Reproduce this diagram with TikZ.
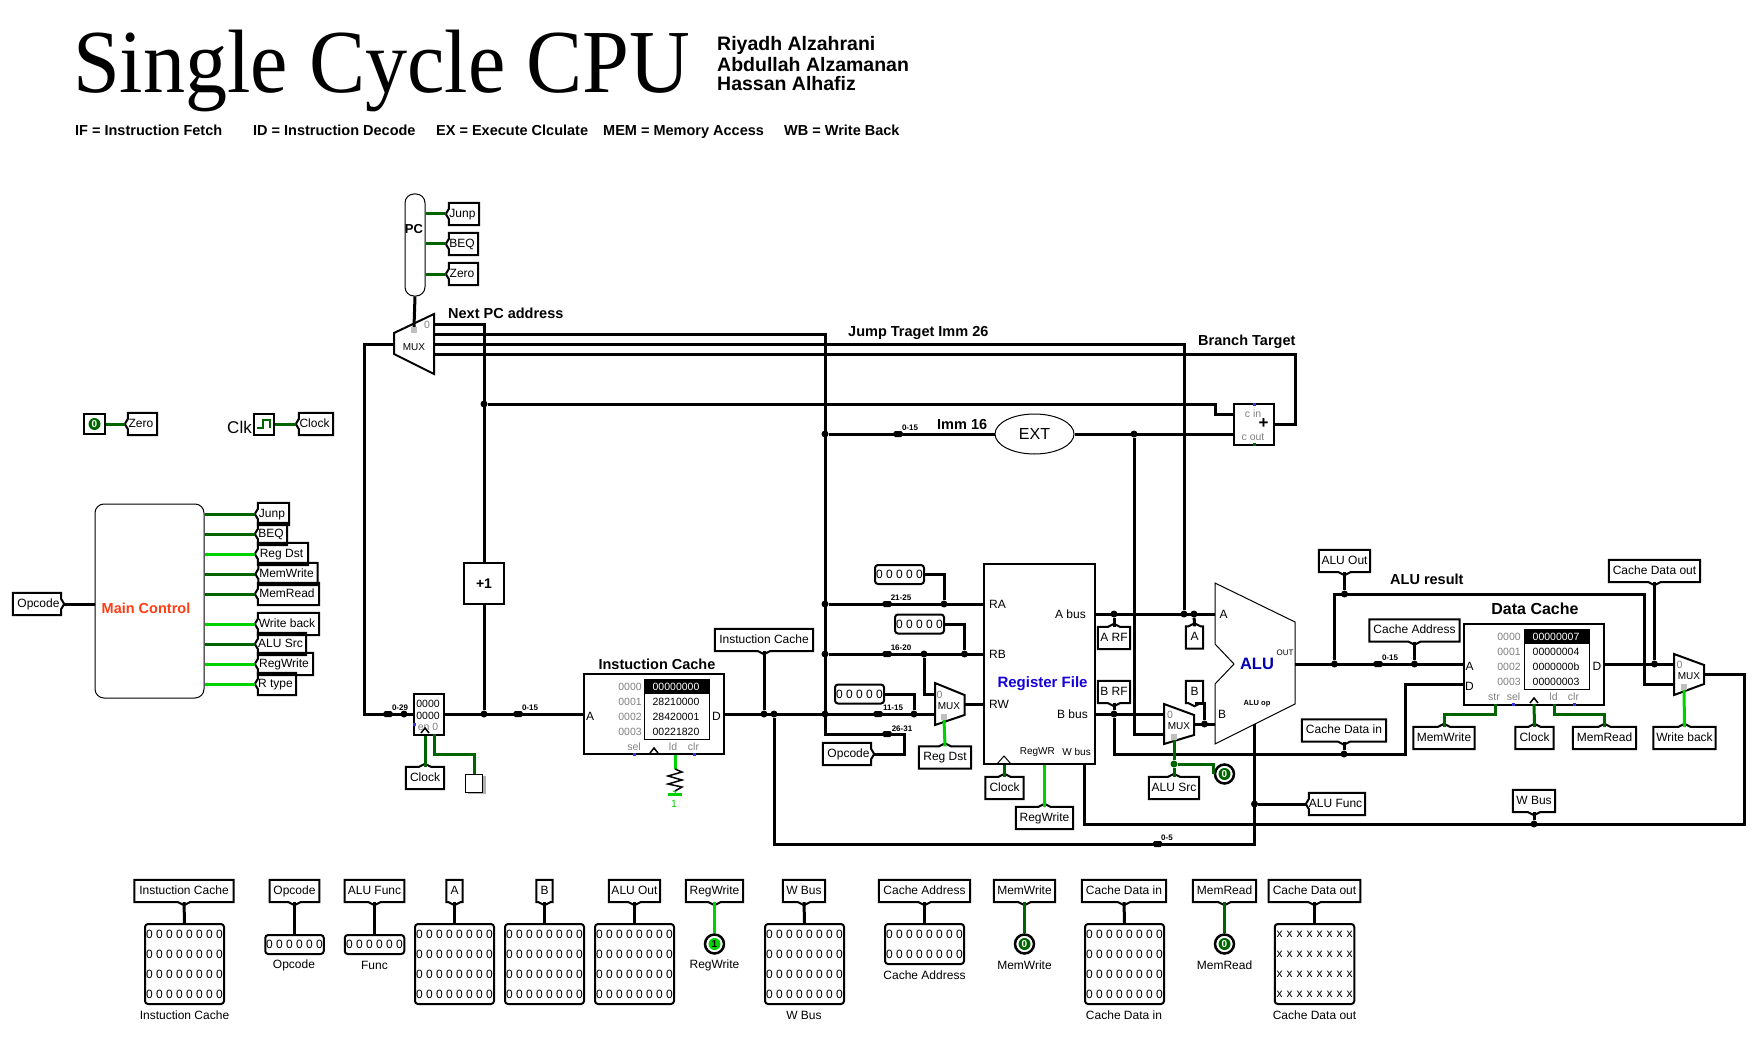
\documentclass[tikz,border=0pt]{standalone}
\usepackage{fontspec}
\setmainfont{Liberation Sans}
\newfontfamily\titlefont[FakeStretch=0.935]{Liberation Serif}
\usetikzlibrary{shapes.geometric}
\definecolor{wireon}{RGB}{0,210,0}
\definecolor{wireoff}{RGB}{0,100,0}
\definecolor{portgray}{RGB}{128,128,128}
\definecolor{pinblue}{RGB}{50,50,230}

\begin{document}
\begin{tikzpicture}[x=1pt,y=-1pt]
        % Setup the style for the fonts and wires
        \tikzset{fs/.style={font=\fontsize{#1}{#1}\selectfont},
                 fb/.style={font=\bfseries\fontsize{#1}{#1}\selectfont},
                 txt/.style={inner sep=0, anchor=west},
                 caption/.style={inner sep=0, fs=12},
                 port/.style={inner sep=0, fs=12},
                 gport/.style={inner sep=0, fs=10.5, text=portgray},
                 bus/.style={line width=3, line join=miter},
                 on/.style={line width=3, draw=wireon, line join=miter},
                 off/.style={line width=3, draw=wireoff, line join=miter},
                 dot/.style={circle, fill=black, inner sep=0, minimum size=7},
                 gdot/.style={circle, fill=wireoff, inner sep=0, minimum size=7},
                 splitter/.style={fill=black, inner sep=0, minimum width=9, minimum height=6, rounded corners=1.5},
                 splabel/.style={inner sep=0, fb=8},
                 gate/.style={draw, line width=2, line join=miter},
                 block/.style={draw, line width=2, inner sep=0},
                 thinblock/.style={draw, line width=1, inner sep=0},
                 bluepin/.style={fill=pinblue, inner sep=0, minimum size=3},
                 greysel/.style={fill=black!25, inner sep=0, minimum size=6},
                 muxtext/.style={inner sep=0, fs=10}}
        % Setup the style for the tunnels and probes
        \tikzset{tagbox/.style={rectangle, inner sep=0, minimum height=22, text height=9, text depth=2.5, fs=12},
                 tagline/.style={line width=2, line join=miter},
                 tagS/.style={tagbox, append after command={\pgfextra{\begin{pgfinterruptpath}
                     \draw[tagline] ([xshift=-6pt]\tikzlastnode.south) -- (\tikzlastnode.south west) -- (\tikzlastnode.north west)
                     -- (\tikzlastnode.north east) -- (\tikzlastnode.south east) -- ([xshift=6pt]\tikzlastnode.south)
                     -- ([yshift=-3pt]\tikzlastnode.south) -- cycle;\end{pgfinterruptpath}}}},
                 tagN/.style={tagbox, append after command={\pgfextra{\begin{pgfinterruptpath}
                     \draw[tagline] ([xshift=-6pt]\tikzlastnode.north) -- (\tikzlastnode.north west) -- (\tikzlastnode.south west)
                     -- (\tikzlastnode.south east) -- (\tikzlastnode.north east) -- ([xshift=6pt]\tikzlastnode.north)
                     -- ([yshift=3pt]\tikzlastnode.north) -- cycle;\end{pgfinterruptpath}}}},
                 tagW/.style={tagbox, append after command={\pgfextra{\begin{pgfinterruptpath}
                     \draw[tagline] (\tikzlastnode.west) -- ([xshift=3pt,yshift=5pt]\tikzlastnode.west)
                     -- ([xshift=3pt]\tikzlastnode.north west) -- (\tikzlastnode.north east) -- (\tikzlastnode.south east)
                     -- ([xshift=3pt]\tikzlastnode.south west) -- ([xshift=3pt,yshift=-5pt]\tikzlastnode.west) -- cycle;\end{pgfinterruptpath}}}},
                 tagE/.style={tagbox, append after command={\pgfextra{\begin{pgfinterruptpath}
                     \draw[tagline] (\tikzlastnode.east) -- ([xshift=-3pt,yshift=5pt]\tikzlastnode.east)
                     -- ([xshift=-3pt]\tikzlastnode.north east) -- (\tikzlastnode.north west) -- (\tikzlastnode.south west)
                     -- ([xshift=-3pt]\tikzlastnode.south east) -- ([xshift=-3pt,yshift=-5pt]\tikzlastnode.east) -- cycle;\end{pgfinterruptpath}}}},
                 probe/.style={draw, line width=2, rounded corners=3, inner sep=0, align=center,
                               font=\fontsize{12}{20}\selectfont},
                 ring/.style={circle, draw, line width=2.5, minimum size=19, inner sep=0},
                 pinon/.style={circle, fill=wireon, inner sep=0, minimum size=12, fb=10},
                 pinoff/.style={circle, fill=wireoff, text=white, inner sep=0, minimum size=12, fb=10}}

        \useasboundingbox (0,0) rectangle (1763,1059);

        % Draw the headings
        \node[inner sep=0, anchor=base west, font=\titlefont\fontsize{90}{90}\selectfont] at (73,93) (title) {Single Cycle CPU};
        \node[txt, fb=19.5] at (717,45) (authorA) {Riyadh Alzahrani};
        \node[txt, fb=19.5] at (717,65) (authorB) {Abdullah Alzamanan};
        \node[txt, fb=19.5] at (717,84) (authorC) {Hassan Alhafiz};
        \node[txt, fb=14.5] at (75,130) (legIF) {IF = Instruction Fetch};
        \node[txt, fb=14.5] at (253,130) (legID) {ID = Instruction Decode};
        \node[txt, fb=14.5] at (436,130) (legEX) {EX = Execute Clculate};
        \node[txt, fb=14.5] at (603,132) (legMEM) {MEM = Memory Access};
        \node[txt, fb=14.5] at (784,130) (legWB) {WB = Write Back};
        \node[txt, fb=14.5] at (448,313) (lblNext) {Next PC address};
        \node[txt, fb=14.5] at (848,333) (lblJump) {Jump Traget Imm 26};
        \node[txt, fb=14.5] at (1198,342) (lblBranch) {Branch Target};
        \node[txt, fb=14.5] at (937,425) (lblImm) {Imm 16};
        \node[txt, fb=14.5] at (1390,579) (lblResult) {ALU result};

        % Draw the PC and its mux
        \node[thinblock, rounded corners=9, minimum width=20, minimum height=102] at (415,245) (pc) {};
        \node[inner sep=0, fb=13] at (414,229) (pcText) {PC};
        \node[tagW, minimum width=33] at (462.5,214) (tJumpPC) {Junp};
        \node[tagW, minimum width=32] at (462,244) (tBeqPC) {BEQ};
        \node[tagW, minimum width=32] at (462,274) (tZeroPC) {Zero};
        \draw[gate] (394,333) -- (434,314) -- (434,374) -- (394,354) -- cycle;
        \node[muxtext] at (414,347) (muxPC) {MUX};
        \node[gport] at (427,325) (muxPCzero) {0};
        \node[greysel] at (414,330) (muxPCsel) {};
        \coordinate (muxPCa) at (434,324);
        \coordinate (muxPCb) at (434,334);
        \coordinate (muxPCc) at (434,344);
        \coordinate (muxPCd) at (434,354);
        \coordinate (muxPCin) at (394,344);

        % Draw the constant and the clock
        \node[block, minimum width=21, minimum height=20] at (94.5,424) (zeroBox) {};
        \node[pinoff] at (zeroBox) (zeroPin) {0};
        \node[tagW, minimum width=32] at (141,424) (tZero) {Zero};
        \node[inner sep=0, fs=17] at (239.5,427) (clkText) {Clk};
        \node[block, minimum width=20, minimum height=21] at (264,424) (clkBox) {};
        \draw[line width=2, draw=wireoff] (257,428) -- (263,428) -- (263,420) -- (270,420) -- (270,428);
        \node[tagW, minimum width=37] at (314.5,424) (tClock) {Clock};

        % Draw the main control
        \node[inner sep=0, thinblock, rounded corners=9, minimum width=109, minimum height=194] at (149.5,601) (mc) {};
        \node[inner sep=0, fb=14.5, text={rgb,255:red,255;green,60;blue,20}] at (146,608) (mcText) {Main Control};
        \node[tagE, minimum width=51] at (38.5,604) (tOpcodeM) {Opcode};
        \node[tagW, minimum width=34] at (272,514) (tJump) {Junp};
        \node[tagW, minimum width=32] at (271,534) (tBeq) {BEQ};
        \node[tagW, minimum width=53] at (281.5,554) (tRegDst) {Reg Dst};
        \node[tagW, minimum width=62] at (286.5,574) (tMemWrite) {MemWrite};
        \node[tagW, minimum width=64] at (287,594) (tMemRead) {MemRead};
        \node[tagW, minimum width=64] at (287,624) (tWriteBack) {Write back};
        \node[tagW, minimum width=51] at (280.5,644) (tAluSrc) {ALU Src};
        \node[tagW, minimum width=58] at (284,664) (tRegWrite) {RegWrite};
        \node[tagW, minimum width=41] at (275.5,684) (tRType) {R type};

        % Draw the program counter register and the incrementer
        \node[block, minimum width=30, minimum height=41] at (429,714) (reg) {};
        \node[inner sep=0, fs=10.5] at (428,704) (regHi) {0000};
        \node[inner sep=0, fs=10.5] at (428,716) (regLo) {0000};
        \node[gport] at (428,727) (regEn) {en 0};
        \node[bluepin] at (414.5,724) (regBlue) {};
        \draw[line width=1.5] (421,733) -- (425,728) -- (429,733);
        \coordinate (regMemo) at (434.5,734);
        \coordinate (cMemo) at (434.5,754);
        \node[tagN, minimum width=38] at (425,778) (tClockPC) {Clock};
        \node[fill=black!30, inner sep=0, minimum width=18, minimum height=18] at (477,785) (memoShade) {};
        \node[draw, fill=white, line width=1, inner sep=0, minimum width=17, minimum height=18] at (474,783) (memo) {};
        \node[block, fb=14, minimum width=40, minimum height=41] at (484,583.5) (inc) {+1};

        % Draw the instruction cache
        \node[inner sep=0, fb=14.5] at (657,664) (icTitle) {Instuction Cache};
        \node[block, minimum width=140, minimum height=80] at (654,714) (ic) {};
        \node[draw, line width=1, inner sep=0, minimum width=65, minimum height=60] at (677,709) (icData) {};
        \node[fill=black, inner sep=0, minimum width=65, minimum height=15] at (677,686.5) (icRow) {};
        \node[gport] at (630,687) (icAddrA) {0000};
        \node[gport] at (630,702) (icAddrB) {0001};
        \node[gport] at (630,717) (icAddrC) {0002};
        \node[gport] at (630,732) (icAddrD) {0003};
        \node[inner sep=0, fs=10.5, text=white] at (676,687) (icValA) {00000000};
        \node[inner sep=0, fs=10.5] at (676,702) (icValB) {28210000};
        \node[inner sep=0, fs=10.5] at (676,717) (icValC) {28420001};
        \node[inner sep=0, fs=10.5] at (676,732) (icValD) {00221820};
        \node[port] at (590,716) (icA) {A};
        \node[port] at (716.5,716) (icD) {D};
        \node[gport] at (634,747) (icSel) {sel};
        \node[gport] at (673,747) (icLd) {ld};
        \node[gport] at (693.5,747) (icClr) {clr};
        \draw[line width=1.5] (650,753) -- (654,748) -- (658,753);
        \node[bluepin] at (634,754) (icBlueA) {};
        \node[bluepin] at (694,754) (icBlueB) {};
        \node[fill=wireon, inner sep=0, minimum width=14, minimum height=3] at (674.5,794) (pullBar) {};
        \node[inner sep=0, fs=10.5, text=wireon] at (674,804) (pullText) {1};
        \coordinate (pullTop) at (675,769);
        \coordinate (pullEnd) at (675,791);
        \node[tagS, minimum width=98] at (764,640) (tIcOut) {Instuction Cache};
        \node[tagE, minimum width=51] at (848.5,754) (tOpcodeIR) {Opcode};

        % Draw the constants and the register dest mux
        \node[probe, minimum width=49, minimum height=19] at (899.5,574.5) (kRA) {0 0 0 0 0};
        \node[probe, minimum width=49, minimum height=19] at (919.5,624) (kRB) {0 0 0 0 0};
        \node[probe, minimum width=49, minimum height=19] at (859.5,694) (kRW) {0 0 0 0 0};
        \draw[gate] (935,683) -- (964.5,695) -- (964.5,715) -- (935,725) -- cycle;
        \node[muxtext] at (949,706) (muxD) {MUX};
        \node[gport] at (939.5,695) (muxDzero) {0};
        \node[greysel] at (944,717) (muxDsel) {};
        \coordinate (muxDa) at (935,694);
        \coordinate (muxDb) at (935,714);
        \coordinate (muxDout) at (964.5,704);
        \node[tagN, minimum width=52] at (945,757.5) (tRegDstIn) {Reg Dst};

        % Draw the register file
        \node[block, minimum width=110.5, minimum height=200] at (1039.25,664) (rf) {};
        \node[inner sep=0, fb=15, text={rgb,255:red,20;green,0;blue,220}] at (1042.5,684) (rfText) {Register File};
        \node[port, anchor=west] at (989,604) (rfRA) {RA};
        \node[port, anchor=west] at (989,654) (rfRB) {RB};
        \node[port, anchor=west] at (989,704) (rfRW) {RW};
        \node[port, anchor=east] at (1086,614) (rfAbus) {A bus};
        \node[port, anchor=east] at (1088,714) (rfBbus) {B bus};
        \node[inner sep=0, fs=10, anchor=east] at (1055,752) (rfRegWR) {RegWR};
        \node[inner sep=0, fs=10, anchor=east] at (1091,752) (rfWbus) {W bus};
        \draw[line width=1] (997,764) -- (1004,756) -- (1011,764);
        \node[tagN, minimum width=38] at (1004.5,788) (tClockRF) {Clock};
        \node[tagN, minimum width=57] at (1044.5,818) (tRegWriteRF) {RegWrite};
        \coordinate (rfW) at (1084,764);

        % Draw the EXT and the adder
        \node[thinblock, ellipse, fs=16, minimum width=79, minimum height=40] at (1034.5,434) (ext) {EXT};
        \node[block, minimum width=40, minimum height=41] at (1254,424) (adder) {};
        \node[gport] at (1253,414) (adderIn) {c in};
        \node[gport] at (1253,437) (adderOut) {c out};
        \node[inner sep=0, fb=17] at (1263.5,424) (adderPlus) {+};
        \node[bluepin] at (1254,404) (adderBlue) {};
        \node[fill=wireoff, inner sep=0, minimum size=3] at (1254,444) (adderGreen) {};
        \coordinate (adderA) at (1234,414);
        \coordinate (adderB) at (1234,434);

        % Draw the ALU and its mux
        \draw[line width=1, line join=miter] (1215,583) -- (1295,622) -- (1295,704) -- (1215,744) -- (1215,684) -- (1234,664) -- (1215,644) -- cycle;
        \node[inner sep=0, fb=16.5, text={rgb,255:red,0;green,0;blue,176}] at (1257,664) (aluText) {ALU};
        \node[port] at (1223.5,614) (aluAText) {A};
        \node[port] at (1222,714) (aluBText) {B};
        \node[inner sep=0, fs=8] at (1285,653) (aluOutText) {OUT};
        \node[inner sep=0, fb=7.5] at (1257,704) (aluOpText) {ALU op};
        \coordinate (aluA) at (1215,614);
        \coordinate (aluB) at (1215,724);
        \coordinate (aluOut) at (1295,664);
        \coordinate (aluOp) at (1254.5,724);
        \draw[gate] (1164,704) -- (1194,715) -- (1194,735) -- (1164,744) -- cycle;
        \node[muxtext] at (1179,726) (muxA) {MUX};
        \node[gport] at (1170,715) (muxAzero) {0};
        \node[greysel] at (1174,737) (muxAsel) {};
        \coordinate (muxAa) at (1164,714);
        \coordinate (muxAb) at (1164,734);
        \coordinate (muxAout) at (1194,724);
        \node[tagN, minimum width=32] at (1114,638) (tARF) {A RF};
        \node[tagN, minimum width=17] at (1194.5,637.5) (tA) {A};
        \node[tagS, minimum width=32] at (1114,692) (tBRF) {B RF};
        \node[tagS, minimum width=17] at (1194.5,692) (tB) {B};
        \node[tagN, minimum width=50] at (1174,788) (tAluSrcIn) {ALU Src};
        \node[ring] at (1224.5,774) (srcRing) {};
        \node[pinoff] at (srcRing) (srcPin) {0};
        \node[tagW, minimum width=59] at (1335.5,804) (tAluFunc) {ALU Func};

        % Draw the data cache
        \node[inner sep=0, fb=16] at (1535,609) (dcTitle) {Data Cache};
        \node[block, minimum width=140, minimum height=81] at (1534,664) (dc) {};
        \node[draw, line width=1, inner sep=0, minimum width=65, minimum height=60] at (1557,659) (dcData) {};
        \node[fill=black, inner sep=0, minimum width=65, minimum height=15] at (1557,636.5) (dcRow) {};
        \node[gport] at (1509,637) (dcAddrA) {0000};
        \node[gport] at (1509,652) (dcAddrB) {0001};
        \node[gport] at (1509,667) (dcAddrC) {0002};
        \node[gport] at (1509,682) (dcAddrD) {0003};
        \node[inner sep=0, fs=10.5, text=white] at (1556,637) (dcValA) {00000007};
        \node[inner sep=0, fs=10.5] at (1556,652) (dcValB) {00000004};
        \node[inner sep=0, fs=10.5] at (1556,667) (dcValC) {0000000b};
        \node[inner sep=0, fs=10.5] at (1556,682) (dcValD) {00000003};
        \node[port] at (1469.5,666) (dcAText) {A};
        \node[port] at (1469.5,686) (dcDText) {D};
        \node[port] at (1597,666) (dcOutText) {D};
        \node[gport] at (1494,697) (dcStr) {str};
        \node[gport] at (1513.5,697) (dcSel) {sel};
        \node[gport] at (1553.5,697) (dcLd) {ld};
        \node[gport] at (1573.5,697) (dcClr) {clr};
        \draw[line width=1.5] (1530,703) -- (1534,698) -- (1538,703);
        \node[bluepin] at (1513.5,704) (dcBlueA) {};
        \node[bluepin] at (1574,704) (dcBlueB) {};
        \coordinate (dcDin) at (1464,684);
        \coordinate (dcStrPin) at (1495,704);
        \coordinate (dcClkPin) at (1534,704);
        \coordinate (dcLdPin) at (1554,704);
        \coordinate (cStr) at (1495,714);
        \coordinate (cLd) at (1554,714);
        \node[tagN, minimum width=61] at (1444,738) (tMemWriteIn) {MemWrite};
        \node[tagN, minimum width=38] at (1534.5,738) (tClockDC) {Clock};
        \node[tagN, minimum width=63] at (1604.5,738) (tMemReadIn) {MemRead};
        \node[tagS, minimum width=90] at (1414.5,630.5) (tCacheAddr) {Cache Address};
        \node[tagS, minimum width=51] at (1344.5,561) (tAluOut) {ALU Out};
        \node[tagS, minimum width=91] at (1654.5,571) (tCacheOut) {Cache Data out};
        \node[tagS, minimum width=84] at (1344,730.5) (tCacheIn) {Cache Data in};
        \node[tagS, minimum width=42] at (1534,801) (tWBus) {W Bus};
        \draw[gate] (1674,654) -- (1704,665) -- (1704,684) -- (1674,695) -- cycle;
        \node[muxtext] at (1689,676) (muxW) {MUX};
        \node[gport] at (1679.5,665) (muxWzero) {0};
        \node[greysel] at (1684,687) (muxWsel) {};
        \coordinate (muxWa) at (1674,664);
        \coordinate (muxWb) at (1674,684);
        \coordinate (muxWout) at (1704,674);
        \node[tagN, minimum width=62] at (1684.5,738) (tWriteBackIn) {Write back};

        % Draw the tunnels and probes of the bottom row
        \node[tagS, minimum width=99] at (184,891) (tpIc) {Instuction Cache};
        \node[probe, minimum width=79, minimum height=80] at (184.5,964) (pIc) {0 0 0 0 0 0 0 0\\0 0 0 0 0 0 0 0\\0 0 0 0 0 0 0 0\\0 0 0 0 0 0 0 0};
        \node[caption] at (184.5,1015) (cIc) {Instuction Cache};
        \node[tagS, minimum width=49.5] at (294.5,891) (tpOp) {Opcode};
        \node[probe, minimum width=58.5, minimum height=19] at (294.5,944.5) (pOp) {0 0 0 0 0 0};
        \node[caption] at (294,965) (cOp) {Opcode};
        \node[tagS, minimum width=59.5] at (374.5,891) (tpFn) {ALU Func};
        \node[probe, minimum width=59.5, minimum height=19] at (374.5,944.5) (pFn) {0 0 0 0 0 0};
        \node[caption] at (374.5,965) (cFn) {Func};
        \node[tagS, minimum width=16] at (454.5,891) (tpA) {A};
        \node[probe, minimum width=79, minimum height=80] at (454.5,964) (pA) {0 0 0 0 0 0 0 0\\0 0 0 0 0 0 0 0\\0 0 0 0 0 0 0 0\\0 0 0 0 0 0 0 0};
        \node[tagS, minimum width=16] at (544.5,891) (tpB) {B};
        \node[probe, minimum width=79, minimum height=80] at (544.5,964) (pB) {0 0 0 0 0 0 0 0\\0 0 0 0 0 0 0 0\\0 0 0 0 0 0 0 0\\0 0 0 0 0 0 0 0};
        \node[tagS, minimum width=51] at (634.5,891) (tpAo) {ALU Out};
        \node[probe, minimum width=79, minimum height=80] at (634.5,964) (pAo) {0 0 0 0 0 0 0 0\\0 0 0 0 0 0 0 0\\0 0 0 0 0 0 0 0\\0 0 0 0 0 0 0 0};
        \node[tagS, minimum width=57] at (714.5,891) (tpRw) {RegWrite};
        \node[ring] at (714.5,944) (rRw) {};
        \node[pinon] at (rRw) (pRw) {1};
        \node[caption] at (714.5,965) (cRw) {RegWrite};
        \node[tagS, minimum width=42] at (804,891) (tpWb) {W Bus};
        \node[probe, minimum width=79, minimum height=80] at (804.5,964) (pWb) {0 0 0 0 0 0 0 0\\0 0 0 0 0 0 0 0\\0 0 0 0 0 0 0 0\\0 0 0 0 0 0 0 0};
        \node[caption] at (804,1015) (cWb) {W Bus};
        \node[tagS, minimum width=91] at (924.5,891) (tpCa) {Cache Address};
        \node[probe, minimum width=79, minimum height=40] at (924.5,944) (pCa) {0 0 0 0 0 0 0 0\\0 0 0 0 0 0 0 0};
        \node[caption] at (924.5,975) (cCa) {Cache Address};
        \node[tagS, minimum width=61] at (1024.5,891) (tpMw) {MemWrite};
        \node[ring] at (1024.5,944) (rMw) {};
        \node[pinoff] at (rMw) (pMw) {0};
        \node[caption] at (1024.5,965) (cMw) {MemWrite};
        \node[tagS, minimum width=84] at (1124,891) (tpCi) {Cache Data in};
        \node[probe, minimum width=79, minimum height=80] at (1124.5,964) (pCi) {0 0 0 0 0 0 0 0\\0 0 0 0 0 0 0 0\\0 0 0 0 0 0 0 0\\0 0 0 0 0 0 0 0};
        \node[caption] at (1124,1015) (cCi) {Cache Data in};
        \node[tagS, minimum width=63] at (1224.5,891) (tpMr) {MemRead};
        \node[ring] at (1224.5,944) (rMr) {};
        \node[pinoff] at (rMr) (pMr) {0};
        \node[caption] at (1224.5,965) (cMr) {MemRead};
        \node[tagS, minimum width=91.5] at (1314.5,891) (tpCo) {Cache Data out};
        \node[probe, minimum width=79.5, minimum height=80, execute at begin node={\spaceskip=4pt\relax}] at (1314.5,964) (pCo) {x x x x x x x x\\x x x x x x x x\\x x x x x x x x\\x x x x x x x x};
        \node[caption] at (1314.5,1015) (cCo) {Cache Data out};

        % Draw the junctions
        \node[dot] at (404,714) (jPcBack) {};
        \node[dot] at (484,404) (jNext) {};
        \node[dot] at (484,714) (jInc) {};
        \node[dot] at (764,714) (jIcTag) {};
        \node[dot] at (774,714) (jFunct) {};
        \node[dot] at (825,434) (jImm) {};
        \node[dot] at (825,604) (jRs) {};
        \node[dot] at (825,654) (jRt) {};
        \node[dot] at (825,714) (jRd) {};
        \node[dot] at (914,714) (jKrw) {};
        \node[dot] at (924,654) (jRtMux) {};
        \node[dot] at (944,604) (jKra) {};
        \node[dot] at (964.5,654) (jKrb) {};
        \node[dot] at (1134,434) (jExt) {};
        \node[dot] at (1114,614) (jARF) {};
        \node[dot] at (1184,614) (jJumpA) {};
        \node[dot] at (1194,614) (jATag) {};
        \node[dot] at (1114,714) (jBRF) {};
        \node[dot] at (1204.5,724) (jBTag) {};
        \node[dot] at (1254.5,804) (jFunc) {};
        \node[dot] at (1334.5,664) (jResult) {};
        \node[dot] at (1344.5,594) (jAluOut) {};
        \node[dot] at (1414.5,664) (jCacheAddr) {};
        \node[dot] at (1344,754) (jCacheIn) {};
        \node[dot] at (1534,824) (jWBus) {};
        \node[dot] at (1654.5,664) (jCacheOut) {};
        \node[gdot] at (1174,764) (jSrc) {};

        % Draw the bends
        \coordinate (cPcBack) at (364,714);
        \coordinate (cOpA) at (825,734);
        \coordinate (cOpB) at (904,734);
        \coordinate (cBranch) at (1295,424);
        \coordinate (cNext) at (1215,404);
        \coordinate (cCacheIn) at (1405,754);
        \coordinate (cFunct) at (1254.5,844);
        \coordinate (cResult) at (1644.5,594);
        \coordinate (cWBus) at (1744,824);

        % Connect the blocks with wires
        \draw[bus] (pc.south) -- (muxPCsel.north);
        \draw[bus] (muxPCa) -| (inc.north);
        \draw[bus] (muxPCb) -| (cOpA) -- (cOpB) |- (tOpcodeIR.east);
        \draw[bus] (muxPCc) -| (jJumpA);
        \draw[bus] (muxPCd) -| (cBranch) -- (adder.east);
        \draw[bus] (muxPCin) -| (cPcBack) -- (reg.west);
        \draw[bus] (inc.south) -- (jInc);
        \draw[bus] (reg.east) -- (ic.west);
        \draw[bus] (jNext) -- (cNext) |- (adderA);
        \draw[bus] (jImm) -- (ext.west);
        \draw[bus] (ext.east) -- (adderB);
        \draw[bus] (jExt) |- (muxAb);
        \draw[bus] (jRs) -- (jRs -| rf.west);
        \draw[bus] (jRt) -- (jRt -| rf.west);
        \draw[bus] (kRA.east) -| (jKra);
        \draw[bus] (kRB.east) -| (jKrb);
        \draw[bus] (kRW.east) -| (jKrw);
        \draw[bus] (jRtMux) |- (muxDa);
        \draw[bus] (ic.east) -- (muxDb);
        \draw[bus] (tIcOut.south) -- (jIcTag);
        \draw[bus] (jFunct) |- (cFunct) -- (aluOp);
        \draw[bus] (jFunc) -- (tAluFunc.west);
        \draw[bus] (muxDout) -- (muxDout -| rf.west);
        \draw[bus] (jARF -| rf.east) -- (aluA);
        \draw[bus] (tARF.north) -- (jARF);
        \draw[bus] (tA.north) -- (jATag);
        \draw[bus] (jBRF -| rf.east) -- (muxAa);
        \draw[bus] (tBRF.south) -- (jBRF);
        \draw[bus] (jBRF) |- (cCacheIn) |- (dcDin);
        \draw[bus] (tCacheIn.south) -- (jCacheIn);
        \draw[bus] (muxAout) -- (aluB);
        \draw[bus] (tB.south) -| (jBTag);
        \draw[bus] (aluOut) -- (dc.west);
        \draw[bus] (tCacheAddr.south) -- (jCacheAddr);
        \draw[bus] (jResult) |- (cResult) |- (muxWb);
        \draw[bus] (tAluOut.south) -- (jAluOut);
        \draw[bus] (dc.east) -- (muxWa);
        \draw[bus] (tCacheOut.south) -- (jCacheOut);
        \draw[bus] (muxWout) -| (cWBus) -| (rfW);
        \draw[bus] (tWBus.south) -- (jWBus);
        \draw[bus] (tOpcodeM.east) -- (tOpcodeM.east -| mc.west);

        % Connect the control lines
        \draw[off] (tJumpPC.west) -- (tJumpPC.west -| pc.east);
        \draw[off] (tBeqPC.west) -- (tBeqPC.west -| pc.east);
        \draw[off] (tZeroPC.west) -- (tZeroPC.west -| pc.east);
        \draw[off] (zeroBox.east) -- (tZero.west);
        \draw[off] (clkBox.east) -- (tClock.west);
        \draw[off] (tJump.west) -- (tJump.west -| mc.east);
        \draw[off] (tBeq.west) -- (tBeq.west -| mc.east);
        \draw[on] (tRegDst.west) -- (tRegDst.west -| mc.east);
        \draw[off] (tMemWrite.west) -- (tMemWrite.west -| mc.east);
        \draw[off] (tMemRead.west) -- (tMemRead.west -| mc.east);
        \draw[on] (tWriteBack.west) -- (tWriteBack.west -| mc.east);
        \draw[off] (tAluSrc.west) -- (tAluSrc.west -| mc.east);
        \draw[on] (tRegWrite.west) -- (tRegWrite.west -| mc.east);
        \draw[on] (tRType.west) -- (tRType.west -| mc.east);
        \draw[off] (tClockPC.north) -- (tClockPC.north |- reg.south);
        \draw[off] (regMemo) -- (cMemo) -| (memo.north);
        \draw[on] (pullTop) -- (pullTop |- ic.south);
        \draw[line width=1.5, line join=miter] (pullTop) -- (682,772) -- (668,776) -- (682,780) -- (668,784) -- (682,787) -- (pullEnd);
        \draw[on] (pullEnd) -- (pullBar.north);
        \draw[on] (muxDsel.south) -- (tRegDstIn.north);
        \draw[off] (tClockRF.north) -- (tClockRF.north |- rf.south);
        \draw[on] (tRegWriteRF.north) -- (tRegWriteRF.north |- rf.south);
        \draw[off] (muxAsel.south) -- (jSrc);
        \draw[off] (jSrc) -- (tAluSrcIn.north);
        \draw[off] (jSrc) -| (srcRing.west);
        \draw[off] (tMemWriteIn.north) |- (cStr) -- (dcStrPin);
        \draw[off] (tClockDC.north) -- (dcClkPin);
        \draw[off] (tMemReadIn.north) |- (cLd) -- (dcLdPin);
        \draw[on] (muxWsel.south) -- (tWriteBackIn.north);

        % Connect the bottom row
        \draw[bus] (tpIc.south) -- (pIc.north);
        \draw[bus] (tpOp.south) -- (pOp.north);
        \draw[bus] (tpFn.south) -- (pFn.north);
        \draw[bus] (tpA.south) -- (pA.north);
        \draw[bus] (tpB.south) -- (pB.north);
        \draw[bus] (tpAo.south) -- (pAo.north);
        \draw[on] (tpRw.south) -- (rRw.north);
        \draw[bus] (tpWb.south) -- (pWb.north);
        \draw[bus] (tpCa.south) -- (pCa.north);
        \draw[off] (tpMw.south) -- (rMw.north);
        \draw[bus] (tpCi.south) -- (pCi.north);
        \draw[off] (tpMr.south) -- (rMr.north);
        \draw[bus] (tpCo.south) -- (pCo.north);

        % Draw the bit splitters
        \node[splitter] at (388,714) (spPc) {};
        \node[splabel] at (400,708) (spPcText) {0-29};
        \node[splitter] at (518,714) (spIc) {};
        \node[splabel] at (530,708) (spIcText) {0-15};
        \node[splitter] at (898,434) (spImm) {};
        \node[splabel] at (910,428) (spImmText) {0-15};
        \node[splitter] at (887,604) (spRs) {};
        \node[splabel] at (901,598) (spRsText) {21-25};
        \node[splitter] at (887,654) (spRt) {};
        \node[splabel] at (901,648) (spRtText) {16-20};
        \node[splitter] at (878,714) (spRd) {};
        \node[splabel] at (893,708) (spRdText) {11-15};
        \node[splitter] at (887,734) (spOp) {};
        \node[splabel] at (902,729) (spOpText) {26-31};
        \node[splitter] at (1157.5,844) (spFn) {};
        \node[splabel] at (1167,838) (spFnText) {0-5};
        \node[splitter] at (1378,664) (spAddr) {};
        \node[splabel] at (1390,658) (spAddrText) {0-15};
\end{tikzpicture}
\end{document}
